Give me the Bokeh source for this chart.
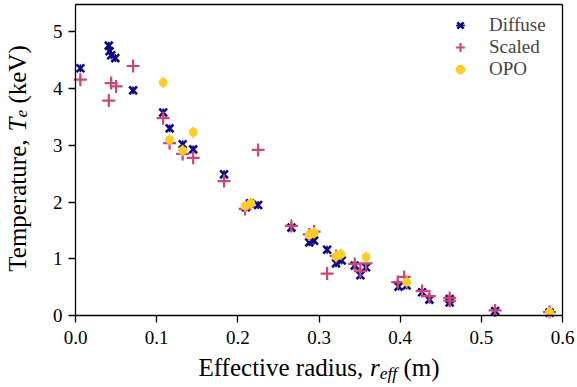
import numpy as np
from bokeh.plotting import figure
from bokeh.models import (FixedTicker, PrintfTickFormatter, Label, Legend,
                          LegendItem, Range1d, LinearAxis)
from bokeh.embed import file_html
from bokeh.resources import INLINE

# ---------------- data ----------------
diffuse_r = [0.006, 0.041, 0.042, 0.044, 0.049, 0.071, 0.108, 0.116, 0.132, 0.145,
             0.183, 0.210, 0.215, 0.225, 0.266, 0.288, 0.294, 0.310, 0.321, 0.328,
             0.344, 0.351, 0.358, 0.398, 0.408, 0.427, 0.436, 0.461, 0.461, 0.517, 0.584]
diffuse_T = [4.36, 4.76, 4.66, 4.59, 4.54, 3.97, 3.58, 3.30, 3.02, 2.93,
             2.49, 1.91, 1.98, 1.95, 1.55, 1.29, 1.32, 1.16, 0.92, 0.97,
             0.88, 0.71, 0.85, 0.51, 0.53, 0.41, 0.28, 0.23, 0.29, 0.08, 0.05]

scaled_r = [0.006, 0.041, 0.044, 0.050, 0.071, 0.108, 0.116, 0.132, 0.145, 0.183,
            0.209, 0.225, 0.266, 0.288, 0.294, 0.310, 0.321, 0.344, 0.351, 0.358,
            0.397, 0.405, 0.427, 0.436, 0.461, 0.461, 0.517, 0.584]
scaled_T = [4.16, 3.79, 4.10, 4.04, 4.40, 3.48, 3.04, 2.85, 2.78, 2.37,
            1.88, 2.92, 1.58, 1.43, 1.48, 0.74, 1.05, 0.91, 0.78, 0.92,
            0.59, 0.68, 0.43, 0.34, 0.31, 0.26, 0.09, 0.06]

opo_r = [0.108, 0.116, 0.132, 0.145, 0.209, 0.216, 0.288, 0.294, 0.321, 0.327,
         0.358, 0.408, 0.584]
opo_T = [4.11, 3.10, 2.91, 3.23, 1.93, 1.98, 1.42, 1.46, 1.04, 1.08,
         1.03, 0.59, 0.05]

diffuse_err = 0.07
scaled_err = 0.07
opo_err = 0.10

series_labels = ["Diffuse", "Scaled", "OPO"]
x_ticks = [0.0, 0.1, 0.2, 0.3, 0.4, 0.5, 0.6]
y_ticks = [0, 1, 2, 3, 4, 5]
x_lim = (0.0, 0.6)
y_lim = (0.0, 5.485)

NAVY = "#0d0887"
PINK = "#cc4778"
GOLD = "#fccd25"
FONT = "Liberation Serif"

# ---------------- layout (pixels) ----------------
W_PX, H_PX = 577, 387
BOX_L, BOX_R, BOX_T, BOX_B = 75, 562, 4, 315   # plot box inside the canvas

xpp = (x_lim[1] - x_lim[0]) / (BOX_R - BOX_L)
ypp = (y_lim[1] - y_lim[0]) / (BOX_B - BOX_T)
x_range = Range1d(x_lim[0] - BOX_L * xpp, x_lim[1] + (W_PX - BOX_R) * xpp)
y_range = Range1d(y_lim[0] - (H_PX - BOX_B) * ypp, y_lim[1] + BOX_T * ypp)

p = figure(width=W_PX, height=H_PX, output_backend="svg", toolbar_location=None,
           x_range=x_range, y_range=y_range,
           min_border_left=0, min_border_right=0, min_border_top=0,
           min_border_bottom=0)
p.grid.visible = False
p.outline_line_color = None
p.background_fill_color = "white"
p.border_fill_color = "white"

# extra axes that close the box (no ticks)
top_ax = LinearAxis(ticker=FixedTicker(ticks=[]))
right_ax = LinearAxis(ticker=FixedTicker(ticks=[]))
p.add_layout(top_ax, "above")
p.add_layout(right_ax, "right")

for ax in p.axis:
    ax.axis_line_width = 1.3
    ax.axis_line_color = "black"
    ax.major_tick_out = 7
    ax.major_tick_in = 0
    ax.major_tick_line_width = 1.3
    ax.minor_tick_out = 0
    ax.minor_tick_in = 0
    ax.major_label_text_font = FONT
    ax.major_label_text_font_size = "19px"
    ax.major_label_text_color = "black"
    ax.axis_label = None

xax = p.below[0]
yax = p.left[0]
xax.fixed_location = y_lim[0]
xax.bounds = x_lim
yax.fixed_location = x_lim[0]
yax.bounds = y_lim
top_ax.fixed_location = y_lim[1]
top_ax.bounds = x_lim
top_ax.major_tick_out = 0
right_ax.fixed_location = x_lim[1]
right_ax.bounds = y_lim
right_ax.major_tick_out = 0

xax.major_label_standoff = 8
yax.major_label_standoff = 6
xax.ticker = FixedTicker(ticks=x_ticks)
xax.formatter = PrintfTickFormatter(format="%.1f")
yax.ticker = FixedTicker(ticks=y_ticks)


def errbars(r, T, err, color):
    r = np.asarray(r); T = np.asarray(T)
    p.segment(x0=r, y0=T - err, x1=r, y1=T + err, line_color=color, line_width=1.6)


errbars(diffuse_r, diffuse_T, diffuse_err, NAVY)
d_r = p.scatter(diffuse_r, diffuse_T, marker="x", size=11, line_color=NAVY, line_width=2.6)
errbars(scaled_r, scaled_T, scaled_err, PINK)
s_r = p.scatter(scaled_r, scaled_T, marker="cross", size=13, line_color=PINK, line_width=2.2)
errbars(opo_r, opo_T, opo_err, GOLD)
o_r = p.scatter(opo_r, opo_T, marker="circle", size=8, fill_color=GOLD, line_color=GOLD)

# legend-only vertical error-bar glyph for the Diffuse entry
nan = [np.nan]
d_bar = p.scatter(nan, nan, marker="dash", angle=np.pi / 2, size=12, line_color=NAVY, line_width=1.6)

legend = Legend(items=[
    LegendItem(label=series_labels[0], renderers=[d_bar, d_r]),
    LegendItem(label=series_labels[1], renderers=[s_r]),
    LegendItem(label=series_labels[2], renderers=[o_r]),
], location="top_right")
legend.label_text_font = FONT
legend.label_text_font_size = "19px"
legend.glyph_width = 28
legend.glyph_height = 22
legend.label_height = 22
legend.label_width = 74
legend.label_standoff = 15
legend.spacing = 0
legend.padding = 10
legend.margin = 4
legend.border_line_alpha = 0
legend.background_fill_alpha = 0
p.add_layout(legend)

# ---- axis labels built from text pieces (upright + italic math) ----
LFS = 25
SUB = 0.7 * LFS
# x label: "Effective radius, r_eff (m)"
w1 = 6.859 * LFS
w2 = 0.389 * LFS
w3 = 1.0 * SUB
w4 = 1.694 * LFS
W = w1 + w2 + w3 + w4
x0 = -W / 2
base_y = -(367 - BOX_B)
pieces = [("Effective radius,", x0, 0, LFS, "normal"),
          ("r", x0 + w1, 0, LFS, "italic"),
          ("eff", x0 + w1 + w2, -5, SUB, "italic"),
          ("(m)", x0 + w1 + w2 + w3 + 0.25 * LFS, 0, LFS, "normal")]
for txt, xo, yo, fs, st in pieces:
    p.add_layout(Label(x=(x_lim[0] + x_lim[1]) / 2, y=y_lim[0], x_offset=xo,
                       y_offset=base_y + yo, text=txt,
                       text_font=FONT, text_font_size=f"{fs:.1f}px",
                       text_font_style=st, text_align="left",
                       text_baseline="alphabetic", text_color="black"))

# y label: "Temperature, T_e (keV)"
v1 = 5.609 * LFS
v2 = 0.556 * LFS
v3 = 0.444 * SUB
v4 = 2.582 * LFS
V = v1 + v2 + v3 + v4
y0 = (BOX_B - 158) - V / 2
base_x = 17 - BOX_L
ypieces = [("Temperature,", y0, 0, LFS, "normal"),
           ("T", y0 + v1, 0, LFS, "italic"),
           ("e", y0 + v1 + v2, 4, SUB, "italic"),
           ("(keV)", y0 + v1 + v2 + v3 + 0.25 * LFS, 0, LFS, "normal")]
for txt, yo, xo, fs, st in ypieces:
    p.add_layout(Label(x=x_lim[0], y=y_lim[0], x_offset=base_x + xo, y_offset=yo,
                       text=txt, angle=np.pi / 2, text_font=FONT,
                       text_font_size=f"{fs:.1f}px", text_font_style=st,
                       text_align="left", text_baseline="alphabetic",
                       text_color="black"))

open("out.html", "w").write(file_html(p, INLINE))
